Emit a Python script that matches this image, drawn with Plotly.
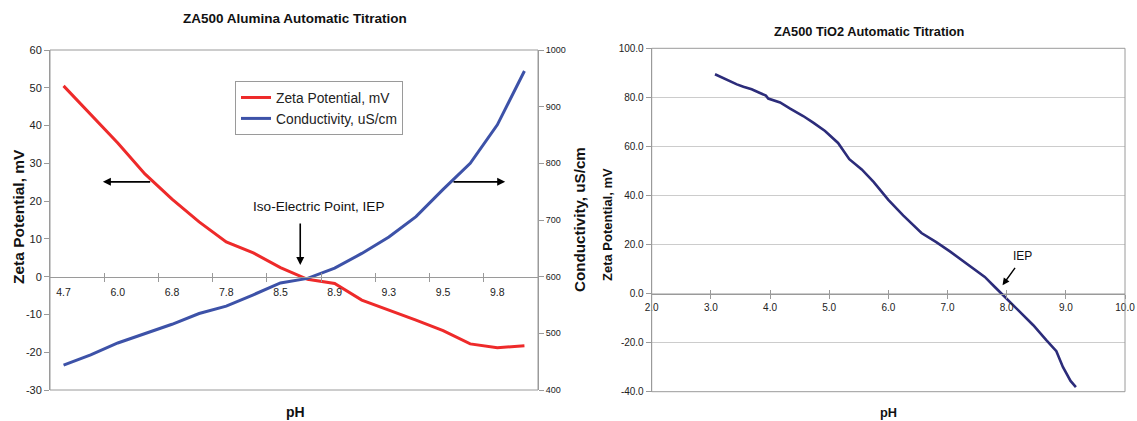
import plotly.graph_objects as go

# ---------------- data: left chart (category axis) ----------------
ph_tick_labels = ["4.7", "6.0", "6.8", "7.8", "8.5", "8.9", "9.3", "9.5", "9.8"]
point_index = list(range(18))
zeta_alumina = [50.5, 43.0, 35.4, 27.2, 20.5, 14.5, 9.2, 6.3, 2.4, -0.7,
                -1.8, -6.2, -8.8, -11.5, -14.3, -17.8, -18.8, -18.3]
conductivity = [444, 462, 483, 499, 516, 535, 548, 568, 589, 597,
                615, 641, 670, 706, 754, 800, 868, 963]
zeta_left_ticks = [-30, -20, -10, 0, 10, 20, 30, 40, 50, 60]
cond_ticks = [400, 500, 600, 700, 800, 900, 1000]

# ---------------- data: right chart ----------------
ph_tio2 = [3.07, 3.24, 3.44, 3.55, 3.69, 3.83, 3.93, 3.97, 4.17, 4.34, 4.56,
           4.73, 4.93, 5.15, 5.34, 5.55, 5.75, 6.00, 6.25, 6.56, 6.81, 7.04,
           7.32, 7.63, 7.80, 7.94, 8.17, 8.45, 8.67, 8.84, 8.95, 9.08, 9.17]
zeta_tio2 = [89.4, 87.4, 85.3, 84.3, 83.3, 81.8, 80.7, 79.5, 77.9, 75.4, 72.4,
             69.7, 66.3, 61.4, 54.8, 50.6, 45.5, 38.2, 31.9, 24.7, 21.0, 17.2,
             12.2, 6.8, 2.7, -0.7, -6.1, -12.9, -19.0, -23.5, -29.9, -35.6, -38.1]
ph_ticks_right = [2, 3, 4, 5, 6, 7, 8, 9, 10]
zeta_right_ticks = [-40, -20, 0, 20, 40, 60, 80, 100]

W, H = 1137, 421
FONT = "Liberation Sans, Arial, sans-serif"
AX = "#9a9a9a"
TXT = "#222222"

def px_x(p):
    return p / W

def px_y(p):
    return 1 - p / H

def hy(v, fmt="{:.0f}"):
    return fmt.format(v)  # plain hyphen-minus, as in the reference

# domains
L_x = [px_x(50), px_x(538)]
L_y = [px_y(390), px_y(50)]
R_x = [px_x(651.7), px_x(1125)]
R_y = [px_y(391.7), px_y(48.3)]
L_pos = L_y[0] + (L_y[1] - L_y[0]) * (30 / 90)
R_pos = R_y[0] + (R_y[1] - R_y[0]) * (40 / 140)

fig = go.Figure()

fig.add_trace(go.Scatter(x=point_index, y=zeta_alumina, mode="lines",
                         name="Zeta Potential, mV",
                         line=dict(color="#EE2A2A", width=3),
                         xaxis="x", yaxis="y"))
fig.add_trace(go.Scatter(x=point_index, y=conductivity, mode="lines",
                         name="Conductivity, uS/cm",
                         line=dict(color="#3D52A8", width=3),
                         xaxis="x", yaxis="y2"))
fig.add_trace(go.Scatter(x=ph_tio2, y=zeta_tio2, mode="lines",
                         line=dict(color="#2C2C7A", width=2.6),
                         showlegend=False, xaxis="x2", yaxis="y3"))
# empty traces to activate overlay tick axes
fig.add_trace(go.Scatter(x=[], y=[], showlegend=False, xaxis="x3", yaxis="y"))
fig.add_trace(go.Scatter(x=[], y=[], showlegend=False, xaxis="x4", yaxis="y3"))

boundaries = [1.5 + 2 * k for k in range(8)]
tickfont = dict(family=FONT, size=10.5, color=TXT)

fig.update_layout(
    width=W, height=H, autosize=False,
    margin=dict(l=0, r=0, t=0, b=0, pad=0, autoexpand=False),
    paper_bgcolor="white", plot_bgcolor="white",
    font=dict(family=FONT, color=TXT),
    showlegend=True,
    legend=dict(x=px_x(235), y=px_y(81), xanchor="left", yanchor="top",
                bgcolor="white", bordercolor="#9a9a9a", borderwidth=1,
                font=dict(family=FONT, size=13.8, color=TXT),
                itemwidth=30, tracegroupgap=0),
    xaxis=dict(domain=L_x, range=[-0.5, 17.5], anchor="free", position=L_pos,
               tickmode="array", tickvals=[0, 2, 4, 6, 8, 10, 12, 14, 16],
               ticktext=ph_tick_labels, ticks="", showgrid=False,
               zeroline=False, showline=True, linecolor=AX, linewidth=1,
               tickfont=tickfont, ticklabelstandoff=6, automargin=False,
               minor=dict(tickmode="array", tickvals=boundaries, ticks="inside",
                          ticklen=4, tickcolor=AX)),
    xaxis3=dict(overlaying="x", range=[-0.5, 17.5], anchor="free", position=L_pos,
                tickmode="array", tickvals=boundaries, ticks="outside",
                ticklen=4, tickcolor=AX, showticklabels=False, showgrid=False,
                zeroline=False, showline=False, automargin=False),
    yaxis=dict(domain=L_y, range=[-30, 60], anchor="x",
               tickmode="array", tickvals=zeta_left_ticks,
               ticktext=[hy(v) for v in zeta_left_ticks],
               ticks="outside", ticklen=5, tickcolor=AX, showgrid=False,
               zeroline=False, showline=True, linecolor=AX, automargin=False,
               tickfont=dict(family=FONT, size=11, color=TXT)),
    yaxis2=dict(overlaying="y", side="right", anchor="x", range=[400, 1000],
                tickmode="array", tickvals=cond_ticks,
                ticktext=[hy(v) for v in cond_ticks],
                ticks="outside", ticklen=5, tickcolor=AX, automargin=False,
                showgrid=False, zeroline=False, showline=True, linecolor=AX,
                tickfont=dict(family=FONT, size=9, color=TXT)),
    xaxis2=dict(domain=R_x, range=[2, 10], anchor="free", position=R_pos,
                tickmode="array", tickvals=ph_ticks_right,
                ticktext=[hy(v, "{:.1f}") for v in ph_ticks_right],
                ticks="outside", ticklen=4, tickcolor=AX, automargin=False,
                showgrid=False, zeroline=False, showline=True, linecolor=AX,
                tickfont=dict(family=FONT, size=10, color=TXT)),
    xaxis4=dict(overlaying="x2", range=[2, 10], anchor="free", position=R_pos,
                tickmode="array", tickvals=ph_ticks_right,
                ticks="inside", ticklen=4, tickcolor=AX, showticklabels=False,
                showgrid=False, zeroline=False, showline=False, automargin=False),
    yaxis3=dict(domain=R_y, range=[-40, 100],
                tickmode="array", tickvals=zeta_right_ticks,
                ticktext=[hy(v, "{:.1f}") for v in zeta_right_ticks],
                anchor="x2", ticks="outside", ticklen=5, tickcolor=AX,
                showgrid=True, gridcolor="#cccccc", zeroline=False,
                showline=True, linecolor=AX, automargin=False,
                tickfont=dict(family=FONT, size=10, color=TXT)),
)

# plot-area frames
fig.add_shape(type="rect", xref="x domain", yref="y domain", x0=0, x1=1, y0=0, y1=1,
              line=dict(color=AX, width=1))
fig.add_shape(type="rect", xref="x2 domain", yref="y3 domain", x0=0, x1=1, y0=0, y1=1,
              line=dict(color=AX, width=1))

def ann_text(text, x, y, size, bold=False, angle=0, xref="paper", yref="paper"):
    t = f"<b>{text}</b>" if bold else text
    fig.add_annotation(text=t, x=x, y=y, xref=xref, yref=yref, showarrow=False,
                       textangle=angle, xanchor="center", yanchor="middle",
                       font=dict(family=FONT, size=size, color="#111111"))

# titles
ann_text("ZA500 Alumina Automatic Titration", px_x(295), px_y(18), 13.5, bold=True)
ann_text("ZA500 TiO2 Automatic Titration", px_x(869), px_y(31), 12.8, bold=True)
ann_text("Zeta Potential, mV", px_x(18), px_y(217), 15.5, bold=True, angle=-90)
ann_text("Conductivity, uS/cm", px_x(580), px_y(220), 15.2, bold=True, angle=-90)
ann_text("Zeta Potential, mV", px_x(607), px_y(225), 13, bold=True, angle=-90)
ann_text("pH", px_x(295), px_y(412), 14, bold=True)
ann_text("pH", px_x(888), px_y(412), 12.8, bold=True)

# left chart annotations
ann_text("Iso-Electric Point, IEP", 9.39, 18.5, 13.6, xref="x", yref="y")
arrow = dict(showarrow=True, arrowhead=2, arrowsize=1, arrowwidth=1.6,
             arrowcolor="black", text="", axref="x", ayref="y", xref="x", yref="y")
fig.add_annotation(x=1.45, y=25.1, ax=3.25, ay=25.1, **arrow)
fig.add_annotation(x=16.29, y=25.1, ax=14.33, ay=25.1, **arrow)
fig.add_annotation(x=8.73, y=3.1, ax=8.73, ay=14.5, **arrow)

# right chart annotations
fig.add_annotation(text="IEP", x=8.27, y=15.5, xref="x2", yref="y3", showarrow=False,
                   font=dict(family=FONT, size=12, color="#111111"))
fig.add_annotation(x=7.93, y=3.4, ax=8.16, ay=11.1, xref="x2", yref="y3",
                   axref="x2", ayref="y3", showarrow=True, arrowhead=2,
                   arrowsize=1, arrowwidth=1.4, arrowcolor="black", text="")

fig.write_html("out.html",
               config={"displayModeBar": False},
               post_script="document.body.style.margin='0';"
                           "document.body.style.overflow='hidden';")
